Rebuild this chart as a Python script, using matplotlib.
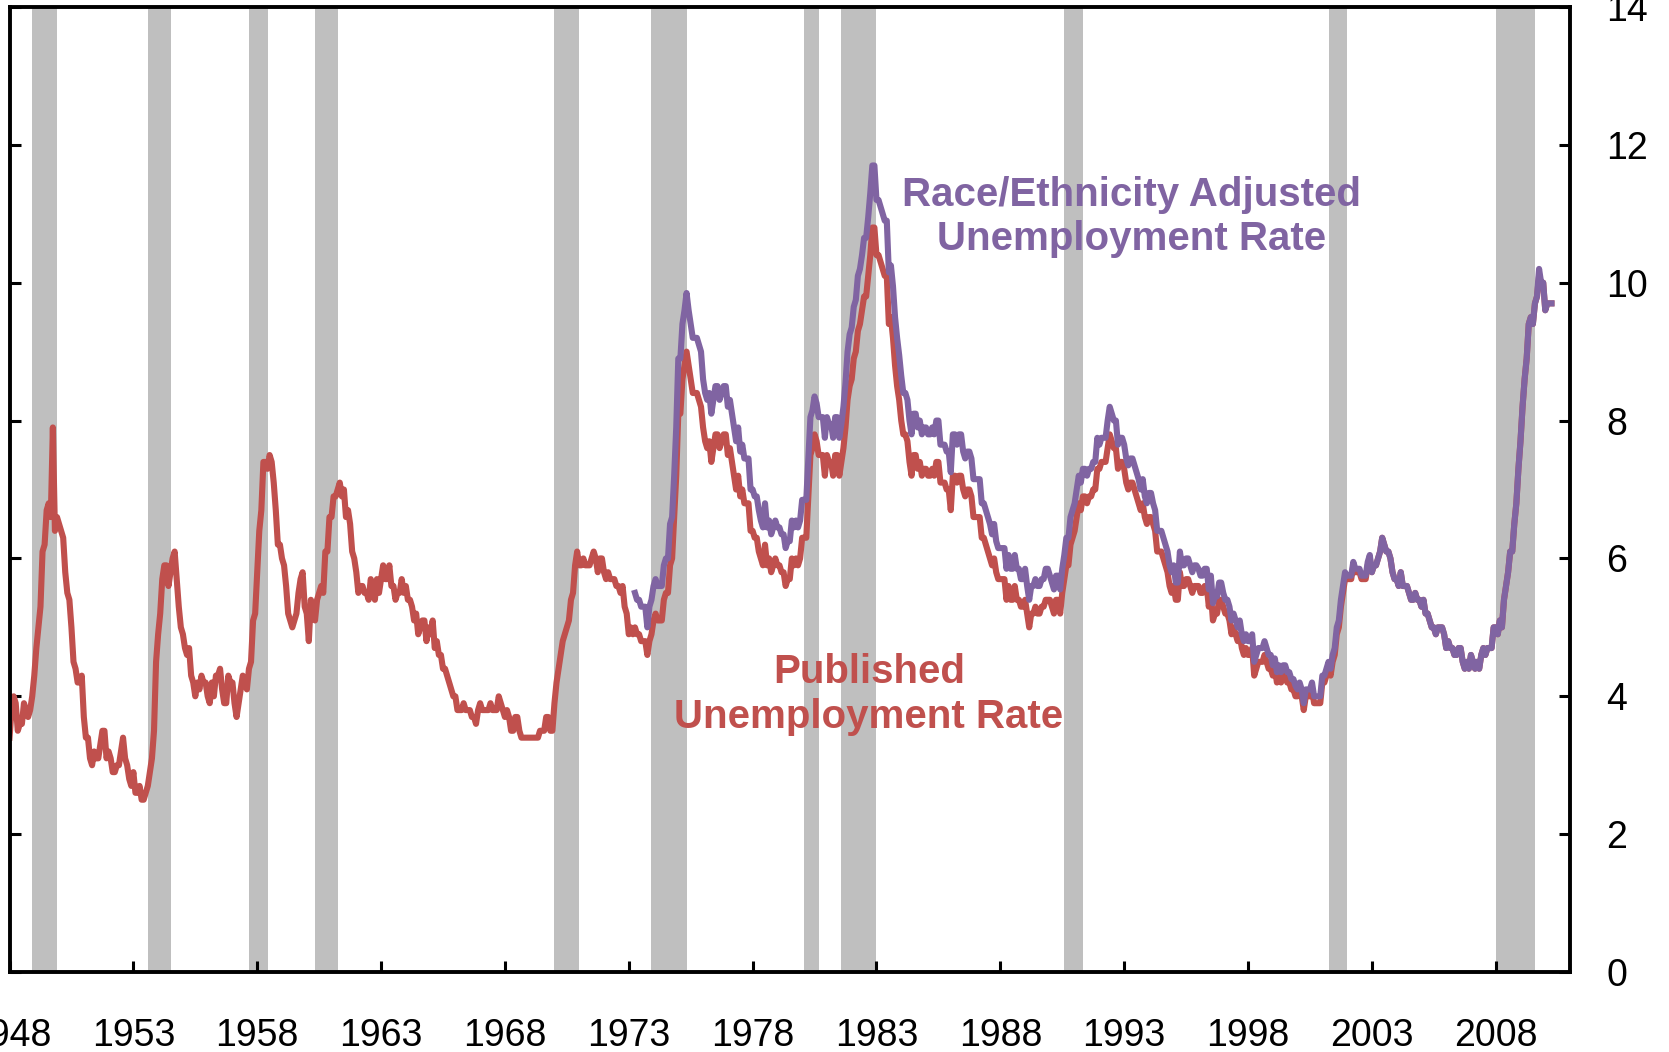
#!/usr/bin/env python3
"""Published vs race/ethnicity adjusted unemployment rate, 1948-2010, with recession shading."""

import matplotlib

matplotlib.use("Agg")
import matplotlib.pyplot as plt

RED = "#C0504D"
PURPLE = "#8064A2"
GREY = "#BFBFBF"

# monthly published unemployment rate, Jan 1948 onwards (one row per year)
published = [
    3.4, 3.8, 4.0, 3.9, 3.5, 3.6, 3.6, 3.9, 3.8, 3.7, 3.8, 4.0,  # 1948
    4.3, 4.7, 5.0, 5.3, 6.1, 6.2, 6.7, 6.8, 6.6, 7.9, 6.4, 6.6,  # 1949
    6.5, 6.4, 6.3, 5.8, 5.5, 5.4, 5.0, 4.5, 4.4, 4.2, 4.2, 4.3,  # 1950
    3.7, 3.4, 3.4, 3.1, 3.0, 3.2, 3.1, 3.1, 3.3, 3.5, 3.5, 3.1,  # 1951
    3.2, 3.1, 2.9, 2.9, 3.0, 3.0, 3.2, 3.4, 3.1, 3.0, 2.8, 2.7,  # 1952
    2.9, 2.6, 2.6, 2.7, 2.5, 2.5, 2.6, 2.7, 2.9, 3.1, 3.5, 4.5,  # 1953
    4.9, 5.2, 5.7, 5.9, 5.9, 5.6, 5.8, 6.0, 6.1, 5.7, 5.3, 5.0,  # 1954
    4.9, 4.7, 4.6, 4.7, 4.3, 4.2, 4.0, 4.2, 4.1, 4.3, 4.2, 4.2,  # 1955
    4.0, 3.9, 4.2, 4.0, 4.3, 4.3, 4.4, 4.1, 3.9, 3.9, 4.3, 4.2,  # 1956
    4.2, 3.9, 3.7, 3.9, 4.1, 4.3, 4.2, 4.1, 4.4, 4.5, 5.1, 5.2,  # 1957
    5.8, 6.4, 6.7, 7.4, 7.4, 7.3, 7.5, 7.4, 7.1, 6.7, 6.2, 6.2,  # 1958
    6.0, 5.9, 5.6, 5.2, 5.1, 5.0, 5.1, 5.2, 5.5, 5.7, 5.8, 5.3,  # 1959
    5.2, 4.8, 5.4, 5.2, 5.1, 5.4, 5.5, 5.6, 5.5, 6.1, 6.1, 6.6,  # 1960
    6.6, 6.9, 6.9, 7.0, 7.1, 6.9, 7.0, 6.6, 6.7, 6.5, 6.1, 6.0,  # 1961
    5.8, 5.5, 5.6, 5.6, 5.5, 5.5, 5.4, 5.7, 5.6, 5.4, 5.7, 5.5,  # 1962
    5.7, 5.9, 5.7, 5.7, 5.9, 5.6, 5.6, 5.4, 5.5, 5.5, 5.7, 5.5,  # 1963
    5.6, 5.4, 5.4, 5.3, 5.1, 5.2, 4.9, 5.0, 5.1, 5.1, 4.8, 5.0,  # 1964
    4.9, 5.1, 4.7, 4.8, 4.6, 4.6, 4.4, 4.4, 4.3, 4.2, 4.1, 4.0,  # 1965
    4.0, 3.8, 3.8, 3.8, 3.9, 3.8, 3.8, 3.8, 3.7, 3.7, 3.6, 3.8,  # 1966
    3.9, 3.8, 3.8, 3.8, 3.8, 3.9, 3.8, 3.8, 3.8, 4.0, 3.9, 3.8,  # 1967
    3.7, 3.8, 3.7, 3.5, 3.5, 3.7, 3.7, 3.5, 3.4, 3.4, 3.4, 3.4,  # 1968
    3.4, 3.4, 3.4, 3.4, 3.4, 3.5, 3.5, 3.5, 3.7, 3.7, 3.5, 3.5,  # 1969
    3.9, 4.2, 4.4, 4.6, 4.8, 4.9, 5.0, 5.1, 5.4, 5.5, 5.9, 6.1,  # 1970
    5.9, 5.9, 6.0, 5.9, 5.9, 5.9, 6.0, 6.1, 6.0, 5.8, 6.0, 6.0,  # 1971
    5.8, 5.7, 5.8, 5.7, 5.7, 5.7, 5.6, 5.6, 5.5, 5.6, 5.3, 5.2,  # 1972
    4.9, 5.0, 4.9, 5.0, 4.9, 4.9, 4.8, 4.8, 4.8, 4.6, 4.8, 4.9,  # 1973
    5.1, 5.2, 5.1, 5.1, 5.1, 5.4, 5.5, 5.5, 5.9, 6.0, 6.6, 7.2,  # 1974
    8.1, 8.1, 8.6, 8.8, 9.0, 8.8, 8.6, 8.4, 8.4, 8.4, 8.3, 8.2,  # 1975
    7.9, 7.7, 7.6, 7.7, 7.4, 7.6, 7.8, 7.8, 7.6, 7.7, 7.8, 7.8,  # 1976
    7.5, 7.6, 7.4, 7.2, 7.0, 7.2, 6.9, 7.0, 6.8, 6.8, 6.8, 6.4,  # 1977
    6.4, 6.3, 6.3, 6.1, 6.0, 5.9, 6.2, 5.9, 6.0, 5.8, 5.9, 6.0,  # 1978
    5.9, 5.9, 5.8, 5.8, 5.6, 5.7, 5.7, 6.0, 5.9, 6.0, 5.9, 6.0,  # 1979
    6.3, 6.3, 6.3, 6.9, 7.5, 7.6, 7.8, 7.7, 7.5, 7.5, 7.5, 7.2,  # 1980
    7.5, 7.4, 7.4, 7.2, 7.5, 7.5, 7.2, 7.4, 7.6, 7.9, 8.3, 8.5,  # 1981
    8.6, 8.9, 9.0, 9.3, 9.4, 9.6, 9.8, 9.8, 10.1, 10.4, 10.8, 10.8,  # 1982
    10.4, 10.4, 10.3, 10.2, 10.1, 10.1, 9.4, 9.5, 9.2, 8.8, 8.5, 8.3,  # 1983
    8.0, 7.8, 7.8, 7.7, 7.4, 7.2, 7.5, 7.5, 7.3, 7.4, 7.2, 7.3,  # 1984
    7.3, 7.2, 7.2, 7.3, 7.2, 7.4, 7.4, 7.1, 7.1, 7.1, 7.0, 7.0,  # 1985
    6.7, 7.2, 7.2, 7.1, 7.2, 7.2, 7.0, 6.9, 7.0, 7.0, 6.9, 6.6,  # 1986
    6.6, 6.6, 6.6, 6.3, 6.3, 6.2, 6.1, 6.0, 5.9, 6.0, 5.8, 5.7,  # 1987
    5.7, 5.7, 5.7, 5.4, 5.6, 5.4, 5.4, 5.6, 5.4, 5.4, 5.3, 5.3,  # 1988
    5.4, 5.2, 5.0, 5.2, 5.2, 5.3, 5.2, 5.2, 5.3, 5.3, 5.4, 5.4,  # 1989
    5.4, 5.3, 5.2, 5.4, 5.4, 5.2, 5.5, 5.7, 5.9, 5.9, 6.2, 6.3,  # 1990
    6.4, 6.6, 6.8, 6.7, 6.9, 6.9, 6.8, 6.9, 6.9, 7.0, 7.0, 7.3,  # 1991
    7.3, 7.4, 7.4, 7.4, 7.6, 7.8, 7.7, 7.6, 7.6, 7.3, 7.4, 7.4,  # 1992
    7.3, 7.1, 7.0, 7.1, 7.1, 7.0, 6.9, 6.8, 6.7, 6.8, 6.6, 6.5,  # 1993
    6.6, 6.6, 6.5, 6.4, 6.1, 6.1, 6.1, 6.0, 5.9, 5.8, 5.6, 5.5,  # 1994
    5.6, 5.4, 5.4, 5.8, 5.6, 5.6, 5.7, 5.7, 5.6, 5.5, 5.6, 5.6,  # 1995
    5.6, 5.5, 5.5, 5.6, 5.6, 5.3, 5.5, 5.1, 5.2, 5.2, 5.4, 5.4,  # 1996
    5.3, 5.2, 5.2, 5.1, 4.9, 5.0, 4.9, 4.8, 4.9, 4.7, 4.6, 4.7,  # 1997
    4.6, 4.6, 4.7, 4.3, 4.4, 4.5, 4.5, 4.5, 4.6, 4.5, 4.4, 4.4,  # 1998
    4.3, 4.4, 4.2, 4.3, 4.2, 4.3, 4.3, 4.2, 4.2, 4.1, 4.1, 4.0,  # 1999
    4.0, 4.1, 4.0, 3.8, 4.0, 4.0, 4.0, 4.1, 3.9, 3.9, 3.9, 3.9,  # 2000
    4.2, 4.2, 4.3, 4.4, 4.3, 4.5, 4.6, 4.9, 5.0, 5.3, 5.5, 5.7,  # 2001
    5.7, 5.7, 5.7, 5.9, 5.8, 5.8, 5.8, 5.7, 5.7, 5.7, 5.9, 6.0,  # 2002
    5.8, 5.9, 5.9, 6.0, 6.1, 6.3, 6.2, 6.1, 6.1, 6.0, 5.8, 5.7,  # 2003
    5.7, 5.6, 5.8, 5.6, 5.6, 5.6, 5.5, 5.4, 5.4, 5.5, 5.4, 5.4,  # 2004
    5.3, 5.4, 5.2, 5.2, 5.1, 5.0, 5.0, 4.9, 5.0, 5.0, 5.0, 4.9,  # 2005
    4.7, 4.8, 4.7, 4.7, 4.6, 4.6, 4.7, 4.7, 4.5, 4.4, 4.5, 4.4,  # 2006
    4.6, 4.5, 4.4, 4.5, 4.4, 4.6, 4.7, 4.6, 4.7, 4.7, 4.7, 5.0,  # 2007
    5.0, 4.9, 5.1, 5.0, 5.4, 5.6, 5.8, 6.1, 6.1, 6.5, 6.8, 7.3,  # 2008
    7.7, 8.2, 8.6, 8.9, 9.4, 9.5, 9.4, 9.7, 9.8, 10.1, 10.0, 10.0,  # 2009
    9.6, 9.7, 9.7, 9.7,  # 2010
]
published_start = 1948.0

# race/ethnicity adjusted rate, monthly from Apr 1973
adjusted = [
    5.5, 5.4, 5.4, 5.3, 5.3, 5.3, 5.0, 5.3, 5.4,  # 1973
    5.6, 5.7, 5.6, 5.6, 5.6, 5.9, 6.0, 6.0, 6.5, 6.6, 7.2, 7.9,  # 1974
    8.9, 8.9, 9.4, 9.6, 9.85, 9.6, 9.4, 9.2, 9.2, 9.2, 9.1, 9.0,  # 1975
    8.6, 8.4, 8.3, 8.4, 8.1, 8.3, 8.5, 8.5, 8.3, 8.4, 8.5, 8.5,  # 1976
    8.2, 8.3, 8.1, 7.9, 7.7, 7.9, 7.55, 7.65, 7.45, 7.45, 7.45, 7.0,  # 1977
    7.0, 6.9, 6.9, 6.7, 6.55, 6.45, 6.8, 6.45, 6.55, 6.35, 6.45, 6.55,  # 1978
    6.45, 6.45, 6.35, 6.35, 6.15, 6.25, 6.25, 6.55, 6.45, 6.55, 6.45, 6.55,  # 1979
    6.85, 6.85, 6.85, 7.45, 8.05, 8.15, 8.35, 8.25, 8.05, 8.05, 8.05, 7.75,  # 1980
    8.05, 7.95, 7.95, 7.75, 8.05, 8.05, 7.75, 7.95, 8.2, 8.55, 9.0, 9.25,  # 1981
    9.35, 9.65, 9.75, 10.1, 10.2, 10.4, 10.65, 10.65, 10.95, 11.3, 11.7, 11.7,  # 1982
    11.2, 11.2, 11.1, 11.0, 10.9, 10.9, 10.15, 10.25, 9.95, 9.5, 9.2, 8.95,  # 1983
    8.65, 8.4, 8.4, 8.3, 8.0, 7.8, 8.1, 8.1, 7.9, 8.0, 7.8, 7.9,  # 1984
    7.9, 7.8, 7.8, 7.9, 7.8, 8.0, 8.0, 7.65, 7.65, 7.65, 7.55, 7.55,  # 1985
    7.25, 7.8, 7.8, 7.65, 7.8, 7.8, 7.55, 7.45, 7.55, 7.55, 7.45, 7.15,  # 1986
    7.15, 7.15, 7.15, 6.8, 6.8, 6.7, 6.6, 6.5, 6.35, 6.5, 6.25, 6.15,  # 1987
    6.15, 6.15, 6.15, 5.85, 6.05, 5.85, 5.85, 6.05, 5.85, 5.85, 5.7, 5.7,  # 1988
    5.85, 5.6, 5.4, 5.6, 5.6, 5.7, 5.6, 5.6, 5.7, 5.7, 5.85, 5.85,  # 1989
    5.75, 5.65, 5.55, 5.75, 5.75, 5.55, 5.85, 6.05, 6.3, 6.3, 6.6, 6.7,  # 1990
    6.8, 7.0, 7.2, 7.1, 7.3, 7.3, 7.2, 7.3, 7.3, 7.4, 7.4, 7.75,  # 1991
    7.65, 7.75, 7.75, 7.75, 8.0, 8.2, 8.1, 8.0, 8.0, 7.65, 7.75, 7.75,  # 1992
    7.65, 7.45, 7.35, 7.45, 7.45, 7.35, 7.25, 7.15, 7.0, 7.15, 6.9, 6.8,  # 1993
    6.95, 6.95, 6.8, 6.7, 6.4, 6.4, 6.4, 6.3, 6.2, 6.1, 5.9, 5.8,  # 1994
    5.9, 5.65, 5.65, 6.1, 5.9, 5.9, 6.0, 6.0, 5.9, 5.8, 5.9, 5.9,  # 1995
    5.85, 5.75, 5.75, 5.85, 5.85, 5.55, 5.75, 5.35, 5.45, 5.45, 5.65, 5.65,  # 1996
    5.5, 5.4, 5.4, 5.3, 5.1, 5.2, 5.1, 5.0, 5.1, 4.9, 4.8, 4.9,  # 1997
    4.8, 4.8, 4.9, 4.5, 4.6, 4.7, 4.7, 4.7, 4.8, 4.7, 4.6, 4.6,  # 1998
    4.45, 4.55, 4.35, 4.45, 4.35, 4.45, 4.45, 4.35, 4.35, 4.25, 4.25, 4.15,  # 1999
    4.1, 4.2, 4.1, 3.9, 4.1, 4.1, 4.1, 4.2, 4.0, 4.0, 4.0, 4.0,  # 2000
    4.3, 4.3, 4.4, 4.5, 4.4, 4.6, 4.7, 5.0, 5.1, 5.4, 5.6, 5.8,  # 2001
    5.75, 5.75, 5.75, 5.95, 5.85, 5.85, 5.85, 5.75, 5.75, 5.75, 5.95, 6.05,  # 2002
    5.8, 5.9, 5.9, 6.0, 6.1, 6.3, 6.2, 6.1, 6.1, 6.0, 5.8, 5.7,  # 2003
    5.7, 5.6, 5.8, 5.6, 5.6, 5.6, 5.5, 5.4, 5.4, 5.5, 5.4, 5.4,  # 2004
    5.3, 5.4, 5.2, 5.2, 5.1, 5.0, 5.0, 4.9, 5.0, 5.0, 5.0, 4.9,  # 2005
    4.7, 4.8, 4.7, 4.7, 4.6, 4.6, 4.7, 4.7, 4.5, 4.4, 4.5, 4.4,  # 2006
    4.6, 4.5, 4.4, 4.5, 4.4, 4.6, 4.7, 4.6, 4.7, 4.7, 4.7, 5.0,  # 2007
    5.0, 4.9, 5.1, 5.0, 5.4, 5.6, 5.8, 6.1, 6.1, 6.5, 6.8, 7.3,  # 2008
    7.7, 8.2, 8.6, 8.9, 9.4, 9.5, 9.4, 9.7, 9.8, 10.2, 10.0, 10.0,  # 2009
    9.6, 9.7, 9.7, 9.7,  # 2010
]
adjusted_start = 1973.0 + 3 / 12

# NBER recessions: (peak year, month), (trough year, month)
recessions = [
    ((1948, 11), (1949, 10)),
    ((1953, 7), (1954, 5)),
    ((1957, 8), (1958, 4)),
    ((1960, 4), (1961, 2)),
    ((1969, 12), (1970, 11)),
    ((1973, 11), (1975, 3)),
    ((1980, 1), (1980, 7)),
    ((1981, 7), (1982, 11)),
    ((1990, 7), (1991, 3)),
    ((2001, 3), (2001, 11)),
    ((2007, 12), (2009, 6)),
]

x_ticks = list(range(1948, 2009, 5))
y_ticks = list(range(0, 15, 2))


def month_axis(start, n):
    return [start + i / 12 for i in range(n)]


def main() -> None:
    plt.rcParams["font.family"] = ["Liberation Sans", "DejaVu Sans"]

    fig = plt.figure(figsize=(16.69, 10.52), dpi=100)
    ax = fig.add_axes([0.0057, 0.076, 0.935, 0.9174])

    for (py, pm), (ty, tm) in recessions:
        ax.axvspan(py + pm / 12, ty + (tm + 1) / 12, color=GREY, lw=0, zorder=0)

    ax.plot(month_axis(published_start, len(published)), published,
            color=RED, lw=4.4, solid_joinstyle="round", zorder=2)
    ax.plot(month_axis(adjusted_start, len(adjusted)), adjusted,
            color=PURPLE, lw=4.4, solid_joinstyle="round", zorder=3)

    ax.text(1993.28, 10.95, "Race/Ethnicity Adjusted\nUnemployment Rate",
            color=PURPLE, fontsize=29, fontweight="bold", ha="center", va="center",
            multialignment="center", linespacing=1.22)
    ax.text(1982.7, 4.03, "Published\nUnemployment Rate",
            color=RED, fontsize=29, fontweight="bold", ha="center", va="center",
            multialignment="center", linespacing=1.22)

    ax.set_xlim(1948, 2011)
    ax.set_ylim(0, 14)
    ax.set_xticks(x_ticks)
    ax.set_yticks(y_ticks)

    for side in ax.spines.values():
        side.set_linewidth(2.8)

    ax.tick_params(axis="x", direction="in", length=8, width=2.2, labelsize=27, pad=33,
                   top=False)
    ax.tick_params(axis="y", direction="in", length=8, width=2.2, labelsize=27, pad=26,
                   left=True, right=True, labelleft=False, labelright=True)

    fig.savefig("out.png", dpi=100)
    plt.close(fig)


if __name__ == "__main__":
    main()
